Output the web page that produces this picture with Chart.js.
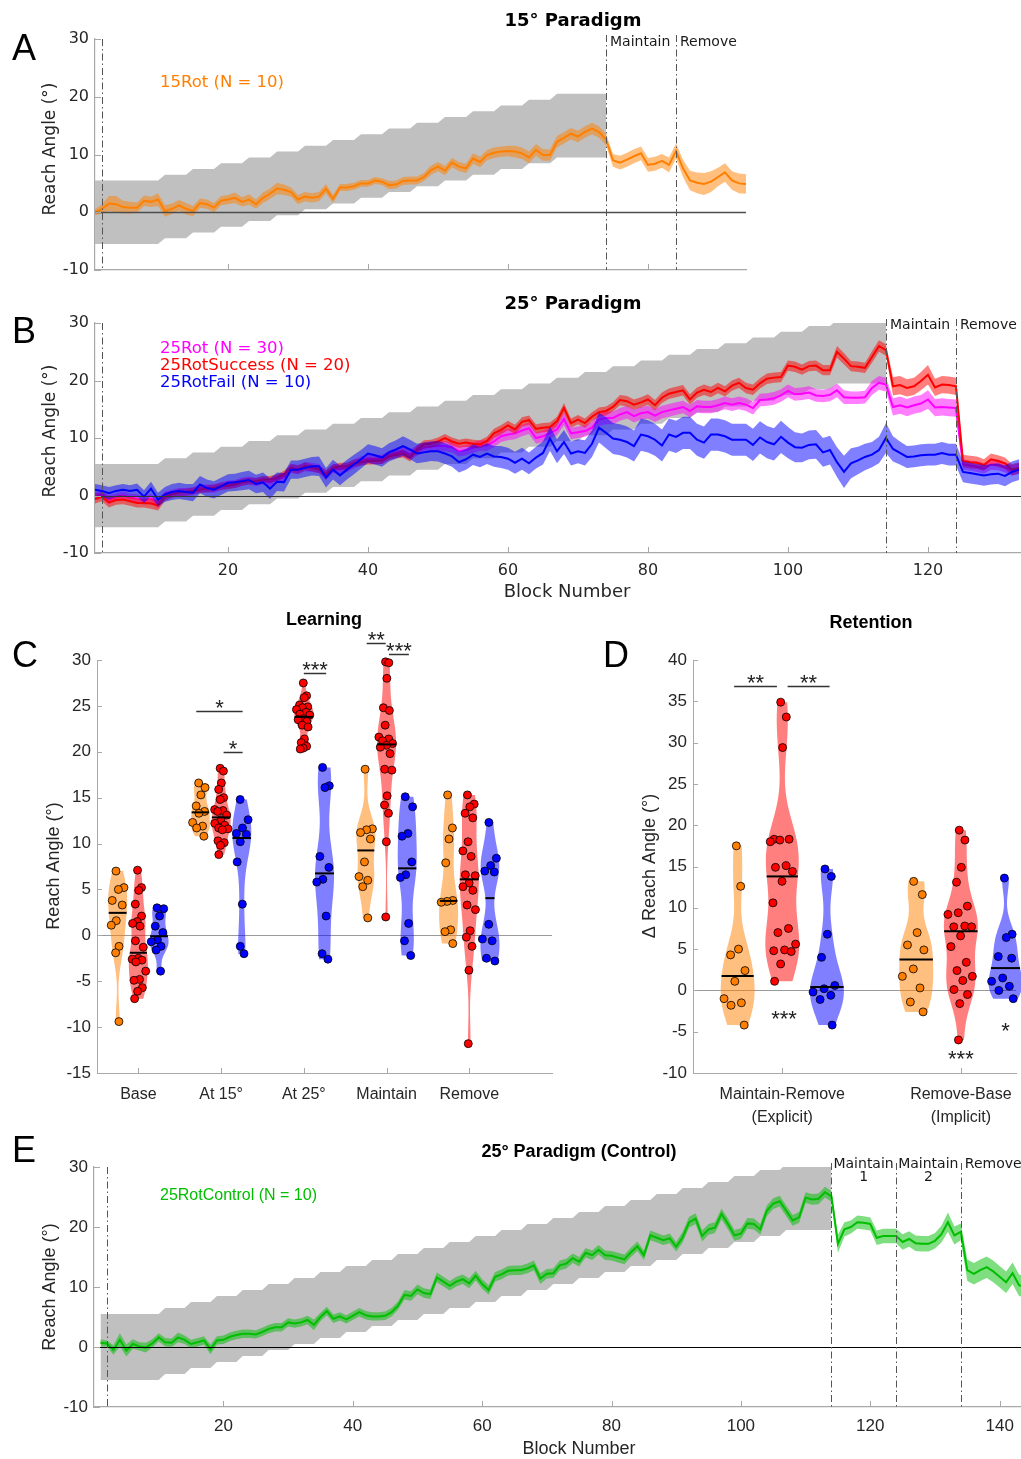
<!DOCTYPE html>
<html><head><meta charset="utf-8">
<script src="https://cdn.jsdelivr.net/npm/chart.js@4.4.1/dist/chart.umd.min.js"></script>
<style>
html,body{margin:0;padding:0;background:#fff;}
body{width:1021px;height:1459px;position:relative;overflow:hidden;}
canvas{position:absolute;}
</style></head><body>
<canvas id="cA" width="1021" height="290" style="left:0px;top:0px"></canvas>
<canvas id="cB" width="1021" height="320" style="left:0px;top:290px"></canvas>
<canvas id="cC" width="590" height="520" style="left:0px;top:610px"></canvas>
<canvas id="cD" width="431" height="520" style="left:590px;top:610px"></canvas>
<canvas id="cE" width="1021" height="329" style="left:0px;top:1130px"></canvas>
<script>
// ===================== DATA =====================
// rotation schedule (deg) per block, blocks 1..74 / 1..114
const sched15 = [0,0,0,0,0,0,0,0,0,0,
 1,1,1,1,2,2,2,2,3,3,3,3,4,4,4,4,5,5,5,5,
 6,6,6,6,7,7,7,7,8,8,8,8,9,9,9,9,10,10,10,10,
 11,11,11,11,12,12,12,12,13,13,13,13,14,14,14,14,
 15,15,15,15,15,15,15,15];
const sched25 = [0,0,0,0,0,0,0,0,0,0,
 1,1,1,1,2,2,2,2,3,3,3,3,4,4,4,4,5,5,5,5,
 6,6,6,6,7,7,7,7,8,8,8,8,9,9,9,9,10,10,10,10,
 11,11,11,11,12,12,12,12,13,13,13,13,14,14,14,14,15,15,15,15,
 16,16,16,16,17,17,17,17,18,18,18,18,19,19,19,19,20,20,20,20,
 21,21,21,21,22,22,22,22,23,23,23,23,24,24,24,24,
 25,25,25,25,25,25,25,25];
const schedBandHalf = 5.5;

// 15Rot, blocks 1..94
const rot15Mean = [0.0,0.6,1.5,1.4,0.9,0.8,0.8,2.0,1.8,2.2,
 0.2,0.6,1.2,0.6,0.2,1.6,1.4,0.8,2.0,2.2,
 2.5,1.8,2.2,1.4,2.5,3.2,4.1,3.9,3.5,2.2,
 2.7,2.5,2.7,4.1,2.3,4.3,4.3,4.5,5.0,5.0,
 5.5,5.3,4.7,4.8,5.4,5.5,5.5,6.1,7.3,7.9,
 7.2,8.6,7.9,7.6,9.3,8.7,9.9,10.3,10.5,10.6,
 10.5,10.2,9.5,10.8,9.9,9.9,12.2,12.9,13.6,13.1,
 13.9,14.5,13.9,12.6,9.0,8.6,9.1,9.7,10.2,8.2,
 8.4,8.9,8.2,10.6,7.6,5.5,5.1,4.9,5.3,6.1,
 6.9,5.5,5.0,4.9];
const rot15Sem = [0.5,0.8,1.3,1.4,1.1,1.0,0.9,0.9,0.9,1.1,
 1.0,0.9,0.9,1.0,0.9,0.8,0.8,0.8,0.8,0.8,
 0.9,0.8,0.9,0.8,0.9,0.9,1.0,0.9,0.8,0.8,
 0.8,0.8,0.8,0.8,0.7,0.6,0.6,0.6,0.6,0.6,
 0.6,0.6,0.7,0.7,0.7,0.7,0.7,0.7,0.8,0.8,
 0.8,0.8,0.8,0.8,0.9,0.9,0.9,0.9,0.9,0.9,
 1.0,1.0,1.0,1.0,1.0,1.0,1.0,1.0,1.0,1.0,
 1.0,1.0,1.0,1.0,1.1,1.2,1.2,1.2,1.2,1.2,
 1.2,1.2,1.3,1.3,1.5,1.7,1.8,1.9,1.8,1.6,
 1.6,1.6,1.7,1.7];

// 25Rot (all), 25RotSuccess, 25RotFail, blocks 1..133
const rotAllMean = [-0.1,0.1,-0.7,-0.3,0.0,-0.4,-0.5,-0.9,-0.5,-1.4,
 0.0,0.3,0.6,0.6,0.7,1.3,1.2,1.2,1.6,1.9,
 2.0,2.4,2.6,2.3,2.6,2.3,2.9,3.2,4.7,4.5,
 5.0,4.9,4.7,3.5,4.7,4.6,4.9,5.5,6.0,6.4,
 6.3,6.3,7.0,7.4,7.7,7.1,7.8,8.3,8.5,8.6,
 8.6,8.4,7.7,7.9,8.3,8.7,8.7,9.4,10.3,10.6,
 10.8,11.3,11.7,10.0,10.3,10.9,11.5,13.3,10.8,11.0,
 11.2,11.8,13.2,13.5,13.5,14.1,14.5,13.8,14.3,14.5,
 13.9,14.5,14.8,15.1,15.4,14.7,15.5,15.4,15.4,15.7,
 16.1,15.8,16.1,15.8,15.2,16.6,16.7,16.9,17.4,18.2,
 17.6,17.7,17.9,17.4,17.3,17.5,18.3,17.1,17.0,17.0,
 17.1,18.7,19.6,19.3,15.4,15.7,15.3,15.7,16.0,16.7,
 15.3,15.4,15.3,15.2,5.4,5.2,5.0,4.7,5.4,5.3,
 4.9,4.4,4.7];
const rotAllSem = [0.7,0.7,0.8,0.7,0.7,0.7,0.7,0.7,0.8,0.8,
 0.7,0.7,0.7,0.7,0.7,0.7,0.7,0.7,0.7,0.7,
 0.7,0.7,0.7,0.7,0.7,0.7,0.7,0.7,0.8,0.8,
 0.8,0.8,0.8,0.8,0.8,0.8,0.8,0.8,0.8,0.8,
 0.8,0.8,0.8,0.8,0.9,0.9,0.9,0.9,0.9,0.9,
 0.9,0.9,0.9,0.9,0.9,0.9,0.9,1.0,1.0,1.0,
 1.0,1.0,1.0,1.0,1.0,1.0,1.0,1.1,1.0,1.0,
 1.0,1.0,1.1,1.1,1.1,1.1,1.1,1.1,1.1,1.1,
 1.1,1.1,1.1,1.1,1.1,1.1,1.1,1.1,1.1,1.1,
 1.1,1.1,1.1,1.1,1.1,1.1,1.1,1.1,1.1,1.1,
 1.1,1.1,1.1,1.1,1.1,1.1,1.2,1.2,1.1,1.1,
 1.1,1.2,1.2,1.2,1.5,1.5,1.5,1.5,1.5,1.6,
 1.5,1.5,1.5,1.5,0.9,0.9,0.9,0.9,0.9,0.9,
 0.9,0.9,0.9];
const rotSuccMean = [-0.6,-0.2,-1.2,-0.8,-0.7,-1.0,-1.3,-1.3,-1.4,-1.7,
 -0.2,0.2,0.5,0.6,0.8,1.0,1.2,1.3,1.6,1.7,
 1.9,2.3,2.5,2.5,2.8,2.8,3.1,3.7,4.8,4.5,
 5.1,4.8,4.5,3.7,4.8,5.1,5.1,5.6,5.8,6.0,
 6.0,6.1,6.8,7.1,7.3,6.6,8.0,8.9,9.0,9.4,
 10.0,9.4,9.0,9.2,9.0,8.9,9.5,10.8,11.4,12.2,
 11.5,12.8,13.1,11.6,11.8,11.9,12.9,15.2,12.6,13.2,
 12.6,13.7,14.5,14.7,15.4,16.6,16.4,15.8,16.2,16.7,
 15.7,17.0,17.7,18.0,18.3,16.7,17.9,18.4,18.0,18.7,
 18.1,19.1,19.6,18.7,18.4,19.5,20.3,20.5,20.6,22.6,
 22.4,21.9,22.5,22.6,21.8,21.8,25.0,23.8,22.5,22.4,
 22.2,24.1,26.0,25.3,19.0,19.2,18.7,19.0,19.9,21.0,
 18.8,19.3,19.2,19.0,6.0,5.8,5.7,5.3,6.3,6.0,
 5.6,4.5,4.8];
const rotSuccSem = [0.8,0.8,0.9,0.8,0.8,0.8,0.8,0.8,0.9,0.9,
 0.7,0.6,0.6,0.6,0.6,0.6,0.6,0.6,0.6,0.6,
 0.6,0.6,0.6,0.6,0.6,0.6,0.6,0.6,0.7,0.7,
 0.7,0.6,0.6,0.7,0.6,0.6,0.6,0.6,0.6,0.6,
 0.6,0.6,0.6,0.6,0.7,0.7,0.7,0.7,0.7,0.7,
 0.7,0.7,0.7,0.7,0.7,0.7,0.7,0.8,0.8,0.8,
 0.8,0.8,0.8,0.8,0.8,0.8,0.8,0.9,0.8,0.8,
 0.8,0.8,0.8,0.8,0.8,0.9,0.9,0.9,0.9,0.9,
 0.9,0.9,0.9,0.9,0.9,0.9,0.9,0.9,0.9,0.9,
 0.9,0.9,0.9,0.9,0.9,0.9,0.9,0.9,0.9,0.9,
 0.9,0.9,0.9,0.9,0.9,0.9,1.0,1.0,0.9,0.9,
 0.9,1.0,1.0,1.0,1.6,1.6,1.5,1.5,1.6,1.7,
 1.5,1.5,1.5,1.5,1.1,1.1,1.1,1.0,1.0,1.0,
 1.0,1.0,1.0];
const rotFailMean = [1.0,0.8,0.4,0.8,1.0,0.8,1.0,-0.2,1.2,-0.7,
 0.2,0.6,0.8,0.6,0.5,1.9,1.3,1.0,1.6,2.2,
 2.3,2.5,2.7,2.0,2.3,1.2,2.4,2.3,4.5,4.5,
 4.8,5.1,5.1,3.1,4.5,3.5,4.5,5.4,6.3,7.3,
 7.0,6.6,7.5,8.0,8.6,8.0,7.3,7.5,7.7,7.7,
 7.3,6.8,5.8,6.3,7.1,6.7,7.3,6.8,6.7,6.4,
 5.7,6.4,5.6,6.6,7.4,9.9,7.7,9.3,7.3,7.7,
 7.4,9.0,11.8,10.9,9.9,9.7,9.3,8.6,10.6,10.3,
 9.7,8.7,10.6,10.2,10.9,10.9,9.7,9.2,10.6,10.6,
 10.3,9.7,9.7,9.7,8.8,10.1,9.3,8.9,10.2,9.2,
 8.4,8.3,8.8,8.9,7.5,7.9,5.8,4.1,5.6,6.1,
 6.7,7.1,7.9,10.0,8.1,7.4,6.7,6.8,7.0,7.1,
 7.1,7.4,7.1,7.1,4.1,3.9,3.7,3.5,3.7,3.8,
 3.4,4.1,4.5];
const rotFailSem = [1.0,1.0,1.1,1.0,1.0,1.0,1.1,1.1,1.2,1.2,
 1.3,1.4,1.4,1.4,1.5,1.5,1.5,1.5,1.5,1.5,
 1.5,1.6,1.6,1.6,1.7,1.8,1.6,1.6,1.6,1.6,
 1.6,1.6,1.7,1.7,1.7,1.7,1.7,1.7,1.6,1.6,
 1.6,1.6,1.6,1.6,1.7,1.7,1.7,1.7,1.7,1.8,
 1.8,1.8,1.8,1.8,1.8,1.8,1.8,1.8,1.9,1.9,
 1.9,1.9,1.9,1.9,2.0,2.1,2.1,2.1,2.1,2.1,
 2.2,2.3,2.6,2.7,2.7,2.7,2.7,2.7,2.8,2.8,
 2.8,2.8,2.8,2.8,2.8,2.8,2.8,2.8,2.8,2.8,
 2.8,2.8,2.8,2.8,2.8,2.8,2.8,2.8,2.8,2.7,
 2.6,2.5,2.5,2.5,2.5,2.5,2.6,2.8,2.6,2.4,
 2.3,2.2,2.3,2.6,2.2,2.0,1.9,1.9,1.9,1.9,
 1.9,1.9,1.9,1.9,1.8,1.8,1.8,1.8,1.8,1.8,
 1.8,1.8,1.8];

// 25RotControl, blocks 1..144
const ctrlMean = [0.7,0.6,-0.5,1.2,-0.6,0.5,0.1,-0.1,0.6,1.6,
 0.8,0.7,1.6,1.2,0.5,0.8,1.1,-0.4,1.1,1.2,
 1.7,2.0,2.2,2.2,2.1,2.5,3.0,3.3,3.3,4.1,
 3.9,4.1,4.5,3.7,5.0,6.0,4.7,5.1,4.6,5.2,
 5.8,5.3,5.1,5.1,5.2,5.8,6.9,8.7,8.5,9.6,
 9.0,8.8,11.6,10.9,10.2,10.9,11.3,10.6,11.9,10.5,
 9.5,11.7,12.1,12.7,12.8,12.8,13.1,13.6,11.4,12.2,
 12.3,13.6,13.9,14.8,14.2,15.7,15.3,16.2,15.3,15.2,
 14.9,14.6,15.8,16.8,15.3,18.6,18.2,17.8,18.1,16.7,
 18.3,20.8,21.4,18.5,19.6,19.9,22.2,20.5,18.6,18.9,
 20.6,20.5,19.6,22.7,23.9,24.3,22.7,21.1,21.6,24.9,
 24.6,24.7,25.8,25.1,17.2,19.6,20.0,20.8,20.7,20.5,
 18.2,18.5,18.5,18.5,17.5,18.0,17.3,17.2,17.2,17.7,
 18.8,20.8,18.6,19.2,12.8,12.2,12.8,13.3,12.6,11.7,
 10.8,12.3,10.3,10.0];
const ctrlSem = [0.6,0.5,0.8,1.1,1.0,0.8,0.7,0.8,0.7,0.7,
 0.7,0.7,0.8,0.7,0.7,0.7,0.7,0.8,0.7,0.7,
 0.7,0.7,0.7,0.7,0.7,0.7,0.7,0.7,0.7,0.7,
 0.7,0.7,0.7,0.9,0.7,0.7,0.7,0.7,0.7,0.7,
 0.7,0.7,0.7,0.7,0.7,0.7,0.7,0.8,0.8,0.8,
 0.8,0.8,0.8,0.8,0.8,0.8,0.8,0.8,0.8,0.8,
 0.8,0.8,0.8,0.8,0.8,0.8,0.8,0.8,0.9,0.8,
 0.8,0.8,0.8,0.8,0.8,0.8,0.8,0.8,0.8,0.8,
 0.8,0.8,0.8,0.8,0.8,0.8,0.8,0.8,0.8,0.8,
 0.9,0.9,0.9,0.9,0.9,0.9,0.9,0.9,0.9,0.9,
 0.9,0.9,0.9,0.9,0.9,0.9,0.9,0.9,0.9,0.9,
 0.9,0.9,0.9,0.9,1.5,1.2,1.1,1.1,1.1,1.1,
 1.2,1.2,1.2,1.2,1.3,1.3,1.3,1.3,1.3,1.3,
 1.4,1.6,1.5,1.4,1.8,1.8,1.8,1.8,1.8,1.8,
 1.8,1.8,1.8,1.8];

const reachTicks = [-10,0,10,20,30];
const blockTicks15 = [20,40,60,80];
const blockTicks25 = [20,40,60,80,100,120];
const blockTicksCtrl = [20,40,60,80,100,120,140];
const phase15 = [2,74,84];
const phase25 = [2,114,124];
const phaseCtrl = [2,114,124,134];

// Learning (panel C) : per category arrays (Base, At 15°, At 25°, Maintain, Remove)
const learnCats = ['Base','At 15°','At 25°','Maintain','Remove'];
const learnTicks = [-15,-10,-5,0,5,10,15,20,25,30];
const learn15Rot = [
 [7.0,5.2,5.0,3.8,3.3,1.6,1.1,-1.2,-1.9,-9.4],
 [16.6,16.1,15.3,14.1,13.5,13.3,12.3,11.9,11.7,10.8],
 [],
 [18.1,11.6,11.5,11.2,10.5,8.0,6.4,6.0,5.3,1.9],
 [15.3,11.7,10.5,7.9,3.8,3.7,3.6,0.6,0.4,-0.9]];
const learnSuccess = [
 [7.1,5.2,4.9,3.4,2.1,1.5,1.3,1.0,-0.6,-1.3,-2.5,-2.6,-2.7,-2.9,-3.9,-4.8,-4.9,-5.7,-6.1,-6.9],
 [18.2,17.9,16.6,15.9,15.0,14.8,13.7,13.6,13.5,13.1,12.6,12.2,12.0,11.7,11.6,11.5,10.3,10.1,9.8,8.8],
 [27.5,26.1,25.9,25.1,24.9,24.8,24.6,24.3,24.1,24.0,23.6,23.5,23.3,22.9,22.7,21.4,21.0,20.6,20.4,20.3],
 [29.8,29.7,28.0,24.8,24.5,22.9,21.6,21.4,21.2,20.9,20.7,20.5,19.8,18.1,18.0,15.2,14.2,13.3,10.2,2.0],
 [15.3,14.3,14.0,13.3,12.8,10.2,9.2,8.6,6.6,6.5,5.7,5.3,4.9,3.3,2.8,0.5,-0.2,-1.2,-3.8,-11.8]];
const learnFail = [
 [3.0,2.9,2.1,1.0,0.3,-0.5,-0.7,-1.2,-1.6,-3.9],
 [14.8,12.6,11.7,11.1,11.0,10.2,8.0,3.4,-1.2,-2.0],
 [18.3,16.3,16.1,8.6,7.4,6.1,5.8,2.1,-2.0,-2.6],
 [15.1,14.0,11.1,10.8,8.0,6.6,6.3,1.3,-0.6,-2.2],
 [12.3,8.4,7.6,7.0,6.9,1.2,-0.4,-0.6,-2.5,-2.8]];
const learnSig = [
 {cat:2, x1:-0.30, x2:0.26, y:24.4, label:'*'},
 {cat:2, x1:0.03, x2:0.26, y:20.0, label:'*'},
 {cat:3, x1:0.0, x2:0.27, y:28.6, label:'***'},
 {cat:4, x1:-0.24, x2:-0.01, y:31.9, label:'**'},
 {cat:4, x1:0.03, x2:0.27, y:30.7, label:'***'}];

// Retention (panel D)
const retCats = [['Maintain-Remove','(Explicit)'],['Remove-Base','(Implicit)']];
const retTicks = [-10,-5,0,5,10,15,20,25,30,35,40];
const ret15Rot = [
 [17.5,12.6,5.0,4.3,2.4,1.1,-1.0,-1.5,-1.8,-4.2],
 [13.2,11.6,7.0,5.5,4.9,2.6,1.7,0.3,-1.4,-2.6]];
const retSuccess = [
 [34.9,33.1,29.4,18.3,18.3,18.2,18.0,15.1,14.9,14.4,13.2,10.6,7.5,7.0,5.6,4.9,4.8,4.7,3.2,1.1],
 [19.4,18.2,14.9,13.1,10.2,9.4,9.2,7.8,7.7,7.7,6.6,5.3,3.4,2.4,1.7,1.2,0.1,-0.5,-1.6,-6.0]];
const retFail = [
 [14.7,13.8,6.8,4.0,0.6,0.2,-0.2,-0.6,-1.1,-4.2],
 [13.6,6.8,6.4,4.1,3.9,1.5,1.1,0.5,0.0,-1.0]];
const retSig = [
 {cat:1, x1:-0.27, x2:-0.03, y:36.8, label:'**'},
 {cat:1, x1:0.03, x2:0.265, y:36.8, label:'**'}];
const retMarks = [
 {cat:1, dx:0.01, y:-2.8, label:'***'},
 {cat:2, dx:0.0, y:-7.6, label:'***'},
 {cat:2, dx:0.25, y:-4.2, label:'*'}];

// ===================== STYLE / HELPERS =====================
const FV = '"DejaVu Sans", Verdana, sans-serif';
const FA = '"Liberation Sans", Arial, Helvetica, sans-serif';
const AXC = '#a8a8a8';
const TXT = '#262626';
const C_OR = 'rgb(255,128,0)', C_RED = 'rgb(255,0,0)', C_MAG = 'rgb(255,0,255)', C_BLUE = 'rgb(0,0,255)', C_GRN = 'rgb(0,190,0)';
const alpha = c => c.replace('rgb(', 'rgba(').replace(')', ',0.5)');

const pts = (arr, x0) => arr.map((v, i) => ({x: x0 + i, y: v}));
const shift = (a, b, s) => a.map((v, i) => v + s * (Array.isArray(b) ? b[i] : b));

function bandSets(mean, sem, x0, fillColor, ord) {
  return [
    {data: pts(shift(mean, sem, 1), x0), borderColor: 'transparent', borderWidth: 0, pointRadius: 0, fill: false, order: ord},
    {data: pts(shift(mean, sem, -1), x0), borderColor: 'transparent', borderWidth: 0, pointRadius: 0, fill: '-1', backgroundColor: fillColor, order: ord}
  ];
}
function lineSet(mean, x0, color, ord) {
  return {data: pts(mean, x0), borderColor: color, borderWidth: 2, pointRadius: 0, fill: false, order: ord};
}
function seriesSets(mean, sem, color, ord) {
  return [...bandSets(mean, sem, 1, alpha(color), ord + 1), lineSet(mean, 1, color, ord)];
}

function drawText(ctx, t) {
  ctx.save();
  ctx.font = t.font; ctx.fillStyle = t.color || TXT;
  ctx.textAlign = t.align || 'left'; ctx.textBaseline = t.baseline || 'alphabetic';
  if (t.rot) { ctx.translate(t.x, t.y); ctx.rotate(-Math.PI / 2); ctx.fillText(t.text, 0, 0); }
  else ctx.fillText(t.text, t.x, t.y);
  ctx.restore();
}

const inTicks = {
  id: 'inTicks',
  afterDraw(chart, args, opts) {
    const {ctx, chartArea: a} = chart; const xs = chart.scales.x, ys = chart.scales.y;
    const L = opts.len || 5;
    ctx.save(); ctx.strokeStyle = opts.color || AXC; ctx.lineWidth = 1; ctx.beginPath();
    xs.ticks.forEach(t => { const p = Math.round(xs.getPixelForValue(t.value)) + 0.5; ctx.moveTo(p, a.bottom); ctx.lineTo(p, a.bottom - L); });
    ys.ticks.forEach(t => { const p = Math.round(ys.getPixelForValue(t.value)) + 0.5; ctx.moveTo(a.left, p); ctx.lineTo(a.left + L, p); });
    ctx.stroke(); ctx.restore();
  }
};

function tsAnnot(o) {
  return {
    id: 'tsAnnot',
    afterDatasetsDraw(chart) {
      const {ctx, chartArea: a, scales: {x, y}} = chart;
      ctx.save();
      const y0 = Math.round(y.getPixelForValue(0)) + 0.5;
      ctx.strokeStyle = o.zeroColor; ctx.lineWidth = o.zeroWidth;
      ctx.beginPath(); ctx.moveTo(a.left, y0); ctx.lineTo(a.right, y0); ctx.stroke();
      ctx.setLineDash([7, 3, 1.5, 3]); ctx.strokeStyle = '#555'; ctx.lineWidth = 1;
      o.phases.forEach((b, i) => {
        const px = Math.round(x.getPixelForValue(b)) + 0.5;
        ctx.beginPath(); ctx.moveTo(px, i === 0 ? a.top : a.top - 4); ctx.lineTo(px, a.bottom); ctx.stroke();
      });
      ctx.restore();
    },
    afterDraw(chart) {
      const {ctx, scales: {x}} = chart;
      o.texts.forEach(t => drawText(ctx, t));
      const ph = o.phases;
      o.phaseNames.forEach((nm, i) => {
        const px = x.getPixelForValue(ph[i + 1]);
        if (Array.isArray(nm)) {
          drawText(ctx, {text: nm[0], x: px + 2, y: o.phaseY, font: '14px ' + FV, color: '#1a1a1a'});
          const mid = (px + x.getPixelForValue(ph[i + 2])) / 2;
          drawText(ctx, {text: nm[1], x: mid, y: o.phaseY + 13, font: '14px ' + FV, color: '#1a1a1a', align: 'center'});
        } else {
          drawText(ctx, {text: nm, x: px + 4, y: o.phaseY, font: '14px ' + FV, color: '#1a1a1a'});
        }
      });
    }
  };
}

function tsChart(id, o) {
  return new Chart(document.getElementById(id), {
    type: 'line',
    data: {datasets: o.datasets},
    options: {
      responsive: false, maintainAspectRatio: false, animation: false, devicePixelRatio: 1, events: [],
      layout: {padding: o.padding},
      elements: {line: {tension: 0}, point: {radius: 0}},
      plugins: {legend: {display: false}, tooltip: {enabled: false}, inTicks: {len: 6, color: AXC}},
      scales: {
        x: {type: 'linear', min: o.xmin, max: o.xmax,
            grid: {display: false, drawTicks: false}, border: {display: true, color: AXC, width: 1.2},
            afterBuildTicks: s => { s.ticks = o.xticks.map(v => ({value: v})); },
            ticks: {display: o.xlabels, font: {family: o.font, size: o.tickSize}, color: TXT, padding: o.xpad, maxRotation: 0, autoSkip: false},
            afterFit: s => { s.height = o.xh; s.paddingLeft = 0; s.paddingRight = 0; }},
        y: {type: 'linear', min: -10, max: 30,
            grid: {display: false, drawTicks: false}, border: {display: true, color: AXC, width: 1.2},
            afterBuildTicks: s => { s.ticks = reachTicks.map(v => ({value: v})); },
            ticks: {font: {family: o.font, size: o.tickSize}, color: TXT, padding: 6},
            afterFit: s => { s.width = o.yw; s.paddingTop = 0; s.paddingBottom = 0; }}
      }
    },
    plugins: [inTicks, tsAnnot(o)]
  });
}

// ---------- Panel A ----------
tsChart('cA', {
  padding: {left: 0, top: 39, right: 275, bottom: 0}, xh: 20, yw: 95, xmin: 1, xmax: 94,
  xticks: blockTicks15, xlabels: false, xpad: 8, font: FV, tickSize: 16,
  zeroColor: '#4d4d4d', zeroWidth: 1.5, phases: phase15, phaseNames: ['Maintain', 'Remove'], phaseY: 46,
  datasets: [
    ...bandSets(sched15, schedBandHalf, 1, 'rgb(192,192,192)', 100),
    ...seriesSets(rot15Mean, rot15Sem, C_OR, 10)
  ],
  texts: [
    {text: 'A', x: 12, y: 60, font: '36px ' + FA, color: '#000'},
    {text: '15° Paradigm', x: 573, y: 26, font: 'bold 18px ' + FV, color: '#000', align: 'center'},
    {text: '15Rot (N = 10)', x: 160, y: 87, font: '16.5px ' + FV, color: C_OR},
    {text: 'Reach Angle (°)', x: 51, y: 149, font: '17px ' + FV, rot: true, align: 'center', baseline: 'middle'}
  ]
});

// ---------- Panel B ----------
tsChart('cB', {
  padding: {left: 0, top: 33, right: 0, bottom: 0}, xh: 57, yw: 95, xmin: 1, xmax: 133.29,
  xticks: blockTicks25, xlabels: true, xpad: 8, font: FV, tickSize: 16,
  zeroColor: '#333', zeroWidth: 1, phases: phase25, phaseNames: ['Maintain', 'Remove'], phaseY: 39,
  datasets: [
    ...bandSets(sched25, schedBandHalf, 1, 'rgb(192,192,192)', 100),
    ...seriesSets(rotAllMean, rotAllSem, C_MAG, 60),
    ...seriesSets(rotSuccMean, rotSuccSem, C_RED, 50),
    ...seriesSets(rotFailMean, rotFailSem, C_BLUE, 40)
  ],
  texts: [
    {text: 'B', x: 12, y: 53, font: '36px ' + FA, color: '#000'},
    {text: '25° Paradigm', x: 573, y: 19, font: 'bold 18px ' + FV, color: '#000', align: 'center'},
    {text: '25Rot (N = 30)', x: 160, y: 63, font: '16.5px ' + FV, color: C_MAG},
    {text: '25RotSuccess (N = 20)', x: 160, y: 80, font: '16.5px ' + FV, color: C_RED},
    {text: '25RotFail (N = 10)', x: 160, y: 97, font: '16.5px ' + FV, color: C_BLUE},
    {text: 'Block Number', x: 567, y: 307, font: '18px ' + FV, align: 'center'},
    {text: 'Reach Angle (°)', x: 51, y: 141, font: '17px ' + FV, rot: true, align: 'center', baseline: 'middle'}
  ]
});

// ---------- Panel E ----------
tsChart('cE', {
  padding: {left: 0, top: 37, right: 0, bottom: 0}, xh: 52, yw: 94, xmin: 0, xmax: 143.3,
  xticks: blockTicksCtrl, xlabels: true, xpad: 9, font: FA, tickSize: 17,
  zeroColor: '#000', zeroWidth: 1.2, phases: phaseCtrl, phaseNames: [['Maintain', '1'], ['Maintain', '2'], 'Remove'], phaseY: 38,
  datasets: [
    ...bandSets(sched25, schedBandHalf, 1, 'rgb(192,192,192)', 100),
    ...seriesSets(ctrlMean, ctrlSem, C_GRN, 10)
  ],
  texts: [
    {text: 'E', x: 12, y: 32, font: '36px ' + FA, color: '#000'},
    {text: '25° Paradigm (Control)', x: 579, y: 27, font: 'bold 18px ' + FA, color: '#000', align: 'center'},
    {text: '25RotControl (N = 10)', x: 160, y: 70, font: '16px ' + FA, color: C_GRN},
    {text: 'Block Number', x: 579, y: 324, font: '18px ' + FA, align: 'center'},
    {text: 'Reach Angle (°)', x: 50, y: 157, font: '18px ' + FA, rot: true, align: 'center', baseline: 'middle'}
  ]
});

// ===================== VIOLINS =====================
function violinShape(vals) {
  const n = vals.length;
  const mu = vals.reduce((s, v) => s + v, 0) / n;
  const sd = Math.sqrt(vals.reduce((s, v) => s + (v - mu) * (v - mu), 0) / (n - 1));
  const h = 0.62 * sd * Math.pow(4 / (3 * n), 0.2);
  const lo = Math.min(...vals), hi = Math.max(...vals);
  const dens = y => vals.reduce((s, v) => s + Math.exp(-0.5 * ((y - v) / h) ** 2), 0);
  const N = 80, ys = [], ds = [];
  for (let k = 0; k <= N; k++) { const y = lo + (hi - lo) * k / N; ys.push(y); ds.push(dens(y)); }
  const mx = Math.max(...ds);
  const s = [...vals].sort((a, b) => a - b);
  const med = n % 2 ? s[(n - 1) / 2] : (s[n / 2 - 1] + s[n / 2]) / 2;
  return {ys, ds: ds.map(d => d / mx), at: y => dens(y) / mx, med};
}
const jit = i => ((i * 0.6180339887 + 0.31) % 1) * 2 - 1;
const groupStyles = [
  {color: C_OR, off: -0.25},
  {color: C_RED, off: 0},
  {color: C_BLUE, off: 0.25}
];

function violinChart(id, o) {
  const violins = [], datasets = [];
  o.groups.forEach((gv, gi) => {
    const st = groupStyles[gi]; const points = [];
    gv.forEach((vals, ci) => {
      if (!vals.length) return;
      const shape = violinShape(vals);
      const center = ci + 1 + st.off;
      violins.push({center, shape, fill: alpha(st.color)});
      vals.forEach((v, i) => points.push({x: center + jit(i) * o.halfW * 0.85 * shape.at(v), y: v}));
    });
    datasets.push({data: points, pointRadius: 4, pointBackgroundColor: st.color, pointBorderColor: '#000',
                   pointBorderWidth: 0.8, showLine: false, clip: false});
  });
  const plug = {
    id: 'violins',
    beforeDatasetsDraw(chart) {
      const {ctx, chartArea: a, scales: {x, y}} = chart;
      ctx.save();
      const y0 = Math.round(y.getPixelForValue(0)) + 0.5;
      ctx.strokeStyle = '#9a9a9a'; ctx.lineWidth = 1;
      ctx.beginPath(); ctx.moveTo(a.left, y0); ctx.lineTo(a.right, y0); ctx.stroke();
      violins.forEach(v => {
        const {ys, ds} = v.shape;
        ctx.beginPath();
        ys.forEach((yy, k) => { const px = x.getPixelForValue(v.center + o.halfW * ds[k]), py = y.getPixelForValue(yy); k ? ctx.lineTo(px, py) : ctx.moveTo(px, py); });
        for (let k = ys.length - 1; k >= 0; k--) ctx.lineTo(x.getPixelForValue(v.center - o.halfW * ds[k]), y.getPixelForValue(ys[k]));
        ctx.closePath(); ctx.fillStyle = v.fill; ctx.fill();
      });
      ctx.restore();
    },
    afterDatasetsDraw(chart) {
      const {ctx, scales: {x, y}} = chart;
      ctx.save(); ctx.strokeStyle = '#000'; ctx.lineWidth = 2;
      violins.forEach(v => {
        const w = o.halfW * Math.max(v.shape.at(v.shape.med), 0.35);
        const py = y.getPixelForValue(v.shape.med);
        ctx.beginPath(); ctx.moveTo(x.getPixelForValue(v.center - w), py); ctx.lineTo(x.getPixelForValue(v.center + w), py); ctx.stroke();
      });
      ctx.restore();
    },
    afterDraw(chart) {
      const {ctx, scales: {x, y}} = chart;
      ctx.save(); ctx.strokeStyle = '#333'; ctx.lineWidth = 1.5;
      o.sig.forEach(s => {
        const x1 = x.getPixelForValue(s.cat + s.x1), x2 = x.getPixelForValue(s.cat + s.x2), py = Math.round(y.getPixelForValue(s.y)) + 0.5;
        ctx.beginPath(); ctx.moveTo(x1, py); ctx.lineTo(x2, py); ctx.stroke();
        drawText(ctx, {text: s.label, x: (x1 + x2) / 2, y: py + 3.5, font: '22px ' + FA, color: '#222', align: 'center'});
      });
      (o.marks || []).forEach(m => {
        drawText(ctx, {text: m.label, x: x.getPixelForValue(m.cat + m.dx), y: y.getPixelForValue(m.y) + 12.5, font: '22px ' + FA, color: '#222', align: 'center'});
      });
      ctx.restore();
      o.texts.forEach(t => drawText(ctx, t));
    }
  };
  return new Chart(document.getElementById(id), {
    type: 'scatter',
    data: {datasets},
    options: {
      responsive: false, maintainAspectRatio: false, animation: false, devicePixelRatio: 1, events: [],
      layout: {padding: o.padding},
      plugins: {legend: {display: false}, tooltip: {enabled: false}, inTicks: {len: 5, color: AXC}},
      scales: {
        x: {type: 'linear', min: 0.5, max: o.xmax,
            grid: {display: false, drawTicks: false}, border: {display: true, color: AXC, width: 1},
            afterBuildTicks: s => { s.ticks = o.cats.map((c, i) => ({value: i + 1})); },
            ticks: {callback: v => o.cats[Math.round(v) - 1], font: {family: FA, size: 16, lineHeight: 1.45}, color: TXT, padding: 10, maxRotation: 0, autoSkip: false},
            afterFit: s => { s.height = o.xh; s.paddingLeft = 0; s.paddingRight = 0; }},
        y: {type: 'linear', min: o.yticks[0], max: o.yticks[o.yticks.length - 1],
            grid: {display: false, drawTicks: false}, border: {display: true, color: AXC, width: 1},
            afterBuildTicks: s => { s.ticks = o.yticks.map(v => ({value: v})); },
            ticks: {font: {family: FA, size: 17}, color: TXT, padding: 6},
            afterFit: s => { s.width = o.yw; s.paddingTop = 0; s.paddingBottom = 0; }}
      }
    },
    plugins: [plug, inTicks]
  });
}

// ---------- Panel C ----------
violinChart('cC', {
  padding: {left: 0, top: 50, right: 38, bottom: 0}, xh: 57, yw: 97, xmax: 6, halfW: 0.115,
  cats: learnCats, yticks: learnTicks, groups: [learn15Rot, learnSuccess, learnFail], sig: learnSig,
  texts: [
    {text: 'C', x: 12, y: 57, font: '36px ' + FA, color: '#000'},
    {text: 'Learning', x: 324, y: 15, font: 'bold 18px ' + FA, color: '#000', align: 'center'},
    {text: 'Reach Angle (°)', x: 54, y: 256, font: '18px ' + FA, rot: true, align: 'center', baseline: 'middle'}
  ]
});

// ---------- Panel D ----------
violinChart('cD', {
  padding: {left: 0, top: 50, right: 0, bottom: 0}, xh: 57, yw: 103, xmax: 2.31, halfW: 0.095,
  cats: retCats, yticks: retTicks, groups: [ret15Rot, retSuccess, retFail], sig: retSig, marks: retMarks,
  texts: [
    {text: 'D', x: 13, y: 57, font: '36px ' + FA, color: '#000'},
    {text: 'Retention', x: 281, y: 18, font: 'bold 18px ' + FA, color: '#000', align: 'center'},
    {text: 'Δ Reach Angle (°)', x: 60, y: 256, font: '18px ' + FA, rot: true, align: 'center', baseline: 'middle'}
  ]
});
</script>
</body></html>
